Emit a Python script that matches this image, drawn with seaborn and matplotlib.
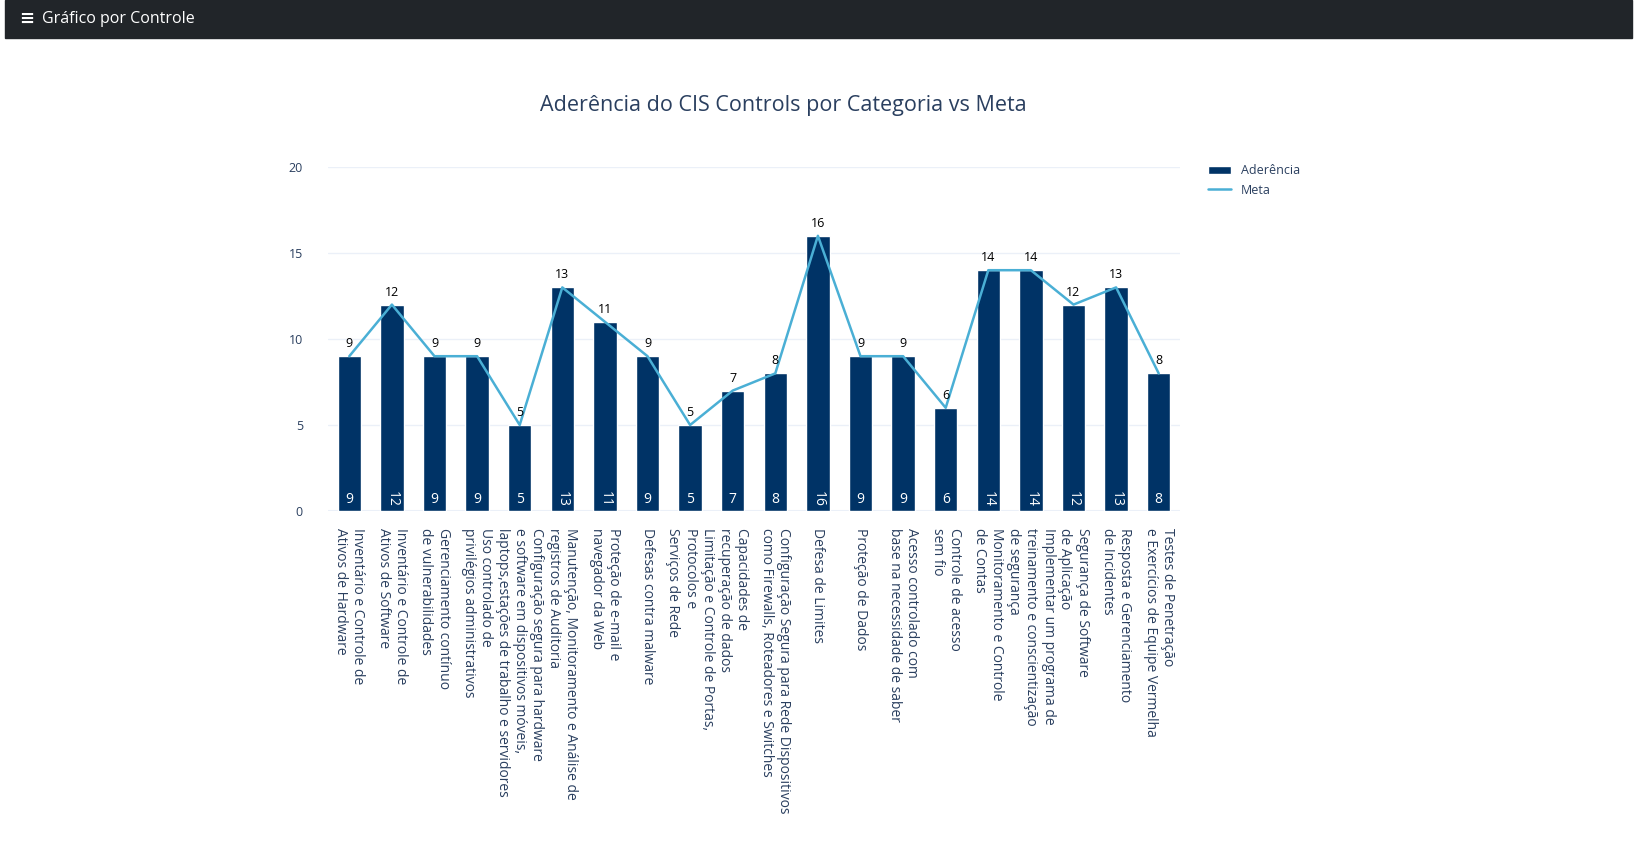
import matplotlib
matplotlib.use("Agg")
import matplotlib.pyplot as plt
import seaborn as sns
import pandas as pd

# ----------------------------
#   DATA
# ----------------------------
categorias = [
    "Inventário e Controle de\nAtivos de Hardware",
    "Inventário e Controle de\nAtivos de Software",
    "Gerenciamento contínuo\nde vulnerabilidades",
    "Uso controlado de\nprivilégios administrativos",
    "Configuração segura para hardware\ne software em dispositivos móveis,\nlaptops,estações de trabalho e servidores",
    "Manutenção, Monitoramento e Análise de\nregistros de Auditoria",
    "Proteção de e-mail e\nnavegador da Web",
    "Defesas contra malware",
    "Limitação e Controle de Portas,\nProtocolos e\nServiços de Rede",
    "Capacidades de\nrecuperação de dados",
    "Configuração Segura para Rede Dispositivos\ncomo Firewalls, Roteadores e Switches",
    "Defesa de Limites",
    "Proteção de Dados",
    "Acesso controlado com\nbase na necessidade de saber",
    "Controle de acesso\nsem fio",
    "Monitoramento e Controle\nde Contas",
    "Implementar um programa de\ntreinamento e conscientização\nde segurança",
    "Segurança de Software\nde Aplicação",
    "Resposta e Gerenciamento\nde Incidentes",
    "Testes de Penetração\ne Exercícios de Equipe Vermelha",
]
aderencia = [9, 12, 9, 9, 5, 13, 11, 9, 5, 7, 8, 16, 9, 9, 6, 14, 14, 12, 13, 8]
meta = [9, 12, 9, 9, 5, 13, 11, 9, 5, 7, 8, 16, 9, 9, 6, 14, 14, 12, 13, 8]

df = pd.DataFrame({"categoria": categorias, "aderencia": aderencia, "meta": meta})

BAR = "#003366"
LINE = "#4aafd5"
TXT = "#2a3f5f"

sns.set_style("white")
plt.rcParams["font.family"] = ["Open Sans", "DejaVu Sans"]

fig = plt.figure(figsize=(16.37, 8.58), dpi=100)

# header bar
fig.patches.append(plt.Rectangle((0.003, 1 - 38 / 858), 0.994, 38 / 858,
                                 transform=fig.transFigure, color="#212529", zorder=0))
fig.text(0.0255, 1 - 19 / 858, "Gráfico por Controle", color="white", fontsize=11.5,
         va="center", ha="left")
fig.text(0.0165, 1 - 19 / 858, "≡", color="white", fontsize=13, va="center",
         ha="center", fontweight="bold")

ax = fig.add_axes([328 / 1637, 1 - 511 / 858, 852 / 1637, 344 / 858])
sns.barplot(data=df, x="categoria", y="aderencia", color=BAR, width=0.55,
            saturation=1, ax=ax, label="Aderência")
ax.plot(range(len(meta)), df["meta"], color=LINE, lw=1.8, label="Meta")

for i, v in enumerate(aderencia):
    ax.text(i, v + 0.35, str(v), ha="center", va="bottom", fontsize=9, color="black")
    ax.text(i, 0.25, str(v), ha="center", va="bottom", fontsize=10, color="white",
            rotation=-90 if v >= 10 else 0)

ax.set_xlim(-0.5, len(categorias) - 0.5)
ax.set_ylim(0, 20)
ax.set_yticks([0, 5, 10, 15, 20])
ax.tick_params(axis="y", labelsize=9, labelcolor=TXT, length=0, pad=18)
ax.set_xticks(range(len(categorias)))
ax.set_xticklabels(categorias, rotation=-90, ha="center", va="top",
                   multialignment="left", fontsize=10, color=TXT)
ax.tick_params(axis="x", length=0, pad=12)
ax.grid(axis="y", color="#ebf0f8", lw=1)
ax.set_axisbelow(True)
for s in ax.spines.values():
    s.set_visible(False)
ax.axhline(0, color="#ebf0f8", lw=1.5, zorder=0)
ax.set_xlabel("")
ax.set_ylabel("")

fig.text(783 / 1637, 1 - 105 / 858, "Aderência do CIS Controls por Categoria vs Meta",
         ha="center", va="center", fontsize=15.5, color=TXT)

handles, labels = ax.get_legend_handles_labels()
order = [labels.index("Aderência"), labels.index("Meta")]
ax.legend([handles[k] for k in order], [labels[k] for k in order],
          loc="upper left", bbox_to_anchor=(1.02, 1.04), frameon=False,
          fontsize=9, labelcolor=TXT, handlelength=1.8)

fig.savefig("out.png", dpi=100)
